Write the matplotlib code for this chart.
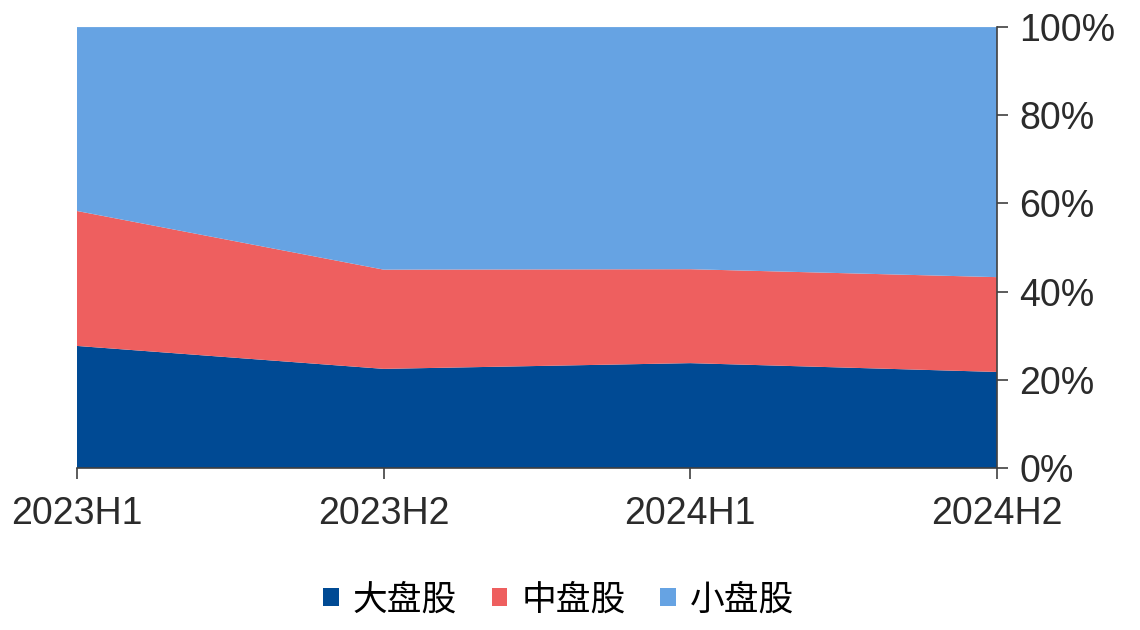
import numpy as np
import matplotlib.pyplot as plt
from matplotlib.patches import Patch
from matplotlib.ticker import PercentFormatter

plt.rcParams['font.family'] = ['Liberation Sans', 'Noto Sans CJK SC', 'DejaVu Sans']

# 数据（占比 %）
periods = ['2023H1', '2023H2', '2024H1', '2024H2']
large_cap = [27.7, 22.5, 23.8, 21.8]
mid_cap = [30.6, 22.5, 21.3, 21.5]
small_cap = [41.7, 55.0, 54.9, 56.7]
labels = ['大盘股', '中盘股', '小盘股']
colors = ['#004a94', '#ee5f5f', '#66a3e3']

fig = plt.figure(figsize=(11.4, 6.3), dpi=100)
ax = fig.add_axes([0.0675, 0.257, 0.807, 0.700])

x = np.arange(len(periods))
ax.stackplot(x, large_cap, mid_cap, small_cap, colors=colors, linewidth=0)

ax.set_xlim(0, len(periods) - 1)
ax.set_ylim(0, 100)
ax.set_xticks(x)
ax.set_xticklabels(periods)
ax.set_yticks(np.arange(0, 101, 20))
ax.yaxis.set_major_formatter(PercentFormatter(decimals=0))
ax.yaxis.tick_right()

for s in ['top', 'left']:
    ax.spines[s].set_visible(False)
for s in ['bottom', 'right']:
    ax.spines[s].set_color('#404040')
    ax.spines[s].set_linewidth(1.2)
    ax.spines[s].set_zorder(5)

ax.tick_params(axis='x', length=8, width=1.2, color='#404040', pad=12,
               labelsize=27, labelcolor='#2b2b2b')
ax.tick_params(axis='y', length=8, width=1.2, color='#404040', pad=8,
               labelsize=27, labelcolor='#2b2b2b')

handles = [Patch(facecolor=c, edgecolor='none') for c in colors]
fig.legend(handles, labels, loc='center', bbox_to_anchor=(0.49, 0.048),
           ncol=3, frameon=False, handlelength=0.45,
           handleheight=0.45, handletextpad=0.4, columnspacing=1.0,
           prop={'family': ['Noto Sans CJK SC', 'DejaVu Sans'], 'size': 25})

fig.savefig('out.png', dpi=100)
